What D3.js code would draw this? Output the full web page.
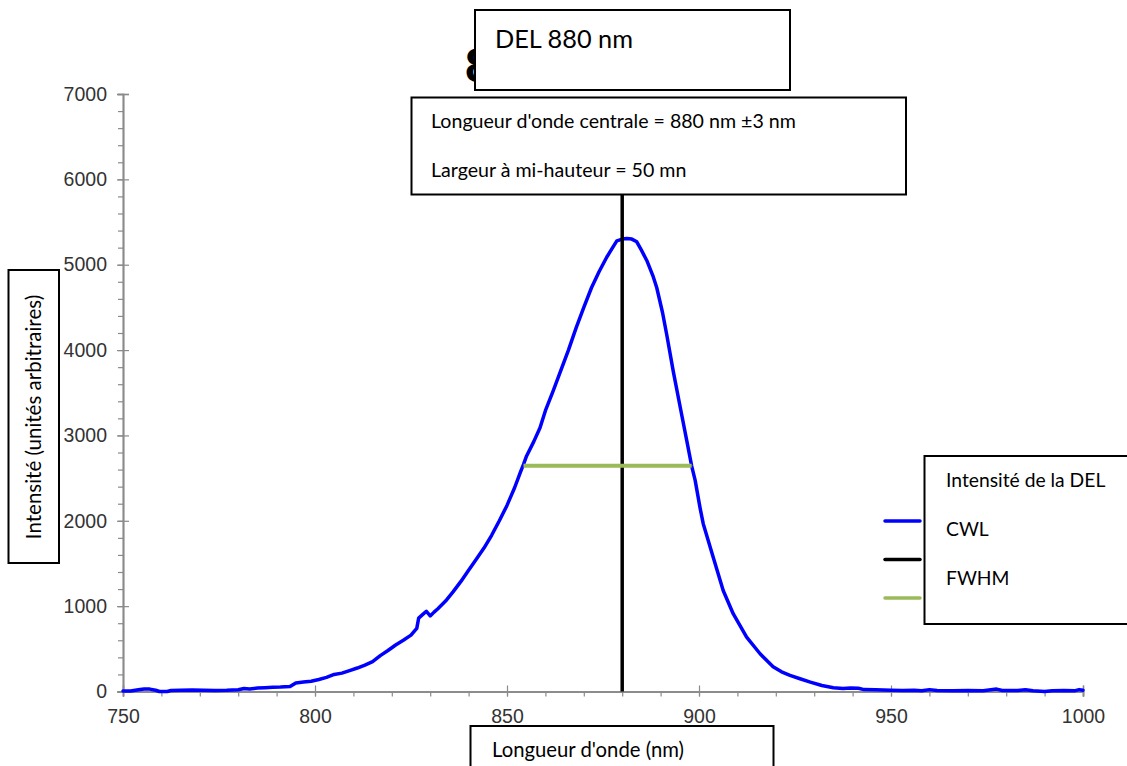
<!DOCTYPE html>
<html><head><meta charset="utf-8">
<script src="https://cdn.jsdelivr.net/npm/d3@7"></script>
<style>
html,body{margin:0;padding:0;background:#fff;}
svg{display:block;}
</style></head>
<body><svg id="c" width="1127" height="766"></svg>
<script>
// ---- data ----
const wavelengths = [750,752,754,755.5,757,758.5,759.5,761.5,762.5,765,768,771,774,777,780,781.5,783,785,787,789,791,793.5,795,797,799,801,803,805,807,809,811,813,815,817,819,821,823,825,826.5,827,828,829,830,831,832,834,836,838,840,842,844,846,848,850,852,853.5,854.3,855.1,857,858.6,860,862,864,866,868,870,872,874,876,877.5,878.6,880,881.2,882.5,883.8,885,886.4,888,889,890.5,891.6,893.3,895.1,896.8,898.1,899,900.3,901.1,903.7,906.3,908.9,912.4,915.9,919.3,921.5,923.7,926.3,929,932,935,937.5,939.5,941.5,943,946,950,953,956,958,960,962,966,970,974,977.5,979,983,985,987,990,992,995,998,999,1000];
const intensity = [5,5,20,30,28,15,0,0,12,15,18,15,12,14,20,35,30,40,45,50,52,58,100,110,120,140,165,200,215,245,275,310,350,420,480,545,600,660,740,860,900,940,885,930,970,1060,1170,1290,1420,1550,1680,1830,2000,2180,2390,2570,2660,2760,2930,3090,3290,3520,3760,4000,4260,4500,4730,4920,5090,5200,5280,5300,5307,5300,5268,5170,5050,4870,4730,4440,4180,3750,3333,2943,2641,2474,2146,1966,1574,1184,911,637,442,290,230,188,149,110,70,45,35,42,38,22,20,15,12,14,10,22,12,10,12,10,28,12,12,20,10,0,10,12,10,22,15];
const cwl = 880;
const fwhmStart = 854.3, fwhmEnd = 898.1, fwhmLevel = 2645;
const xMajorTicks = [750,800,850,900,950,1000];
const yMajorTicks = [0,1000,2000,3000,4000,5000,6000,7000];
const hiddenTitle = "880 nm LED";
const titleText = "DEL 880 nm";
const infoLines = ["Longueur d'onde centrale = 880 nm ±3 nm", "Largeur à mi-hauteur = 50 mn"];
const legendLabels = ["Intensité de la DEL", "CWL", "FWHM"];
const legendColors = ["#0000ff", "#000000", "#9bbb59"];
const yLabel = "Intensité (unités arbitraires)";
const xLabel = "Longueur d'onde (nm)";

const svg = d3.select("#c");
const x = d3.scaleLinear().domain([750,1000]).range([123,1083]);
const y = d3.scaleLinear().domain([0,7000]).range([691.5,94]);
const axisColor = "#8a8a8a";
const tickFont = "'Liberation Sans', Arial, Helvetica, sans-serif";
const boxFont = "Lato, 'Open Sans', sans-serif";

function styleAxis(g){
  g.select(".domain").attr("stroke", axisColor).attr("stroke-width",1.5);
  g.selectAll(".tick line").attr("stroke", axisColor).attr("stroke-width",1.2);
  g.selectAll(".tick text").attr("fill","#333").style("font-family",tickFont).style("font-size","19.5px");
}

// Y axis
const yMinor = d3.range(0,7001,200);
svg.append("g").attr("transform","translate(123,0)")
  .call(d3.axisLeft(y).tickValues(yMinor).tickSize(5).tickFormat(""))
  .call(styleAxis);
svg.append("g").attr("transform","translate(123,0)")
  .call(d3.axisRight(y).tickValues(yMajorTicks).tickSize(6).tickFormat(""))
  .call(styleAxis);
svg.append("g").attr("transform","translate(123,0)")
  .call(d3.axisLeft(y).tickValues(yMajorTicks).tickSize(6).tickPadding(10).tickFormat(d3.format("d")))
  .call(styleAxis);

// X axis
const xMinor = d3.range(750,1001,10);
svg.append("g").attr("transform","translate(0,691.5)")
  .call(d3.axisBottom(x).tickValues(xMinor).tickSize(5).tickFormat(""))
  .call(styleAxis);
svg.append("g").attr("transform","translate(0,691.5)")
  .call(d3.axisTop(x).tickValues(xMajorTicks).tickSize(6).tickFormat(""))
  .call(styleAxis);
svg.append("g").attr("transform","translate(0,691.5)")
  .call(d3.axisBottom(x).tickValues(xMajorTicks).tickSize(5).tickPadding(13).tickFormat(d3.format("d")))
  .call(styleAxis);

// original title, mostly covered by the title box
svg.append("text").attr("x",465).attr("y",82).text(hiddenTitle)
  .style("font-family",tickFont).style("font-size","48px").style("font-weight","bold").attr("fill","#000");

// curve
const pts = wavelengths.map((w,i)=>[w,intensity[i]]);
svg.append("path").datum(pts)
  .attr("d", d3.line().x(d=>x(d[0])).y(d=>y(d[1])))
  .attr("fill","none").attr("stroke","#0000ff").attr("stroke-width",3.5)
  .attr("stroke-linejoin","round").attr("stroke-linecap","round");

// CWL line
svg.append("line").attr("x1",x(cwl)).attr("x2",x(cwl)).attr("y1",y(0)).attr("y2",y(6200))
  .attr("stroke","#000").attr("stroke-width",3.5);

// FWHM line
svg.append("line").attr("x1",x(fwhmStart)).attr("x2",x(fwhmEnd)).attr("y1",y(fwhmLevel)).attr("y2",y(fwhmLevel))
  .attr("stroke","#9bbb59").attr("stroke-width",4);

// legend samples
const legY = [521, 559.5, 598];
legendColors.forEach((c,i)=>{
  svg.append("line").attr("x1",885).attr("x2",920).attr("y1",legY[i]).attr("y2",legY[i])
    .attr("stroke",c).attr("stroke-width",3.5).attr("stroke-linecap","round");
});

function box(x0,y0,w,h){
  svg.append("rect").attr("x",x0).attr("y",y0).attr("width",w).attr("height",h)
    .attr("fill","#fff").attr("stroke","#000").attr("stroke-width",2);
}
function label(t,x0,y0,size){
  return svg.append("text").attr("x",x0).attr("y",y0).text(t)
    .style("font-family",boxFont).style("font-size",size+"px").attr("fill","#000");
}

// title box
box(475,10,315,80);
label(titleText,495,48,25.3);

// info box
box(411.5,97.5,494.5,97);
label(infoLines[0],431,128,19.6);
label(infoLines[1],431,177,19.6);

// legend box
box(924.5,456,230,168);
label(legendLabels[0],946,487,19.3);
label(legendLabels[1],946,536,19.3);
label(legendLabels[2],946,585,19.3);

// y label box
box(8.5,270,50.5,293);
svg.append("text").attr("transform","translate(41,417) rotate(-90)").attr("text-anchor","middle")
  .text(yLabel).style("font-family",boxFont).style("font-size","20.5px").attr("fill","#000");

// x label box
box(470.5,726,303,60);
label(xLabel,492,757,20.3);
</script></body></html>
